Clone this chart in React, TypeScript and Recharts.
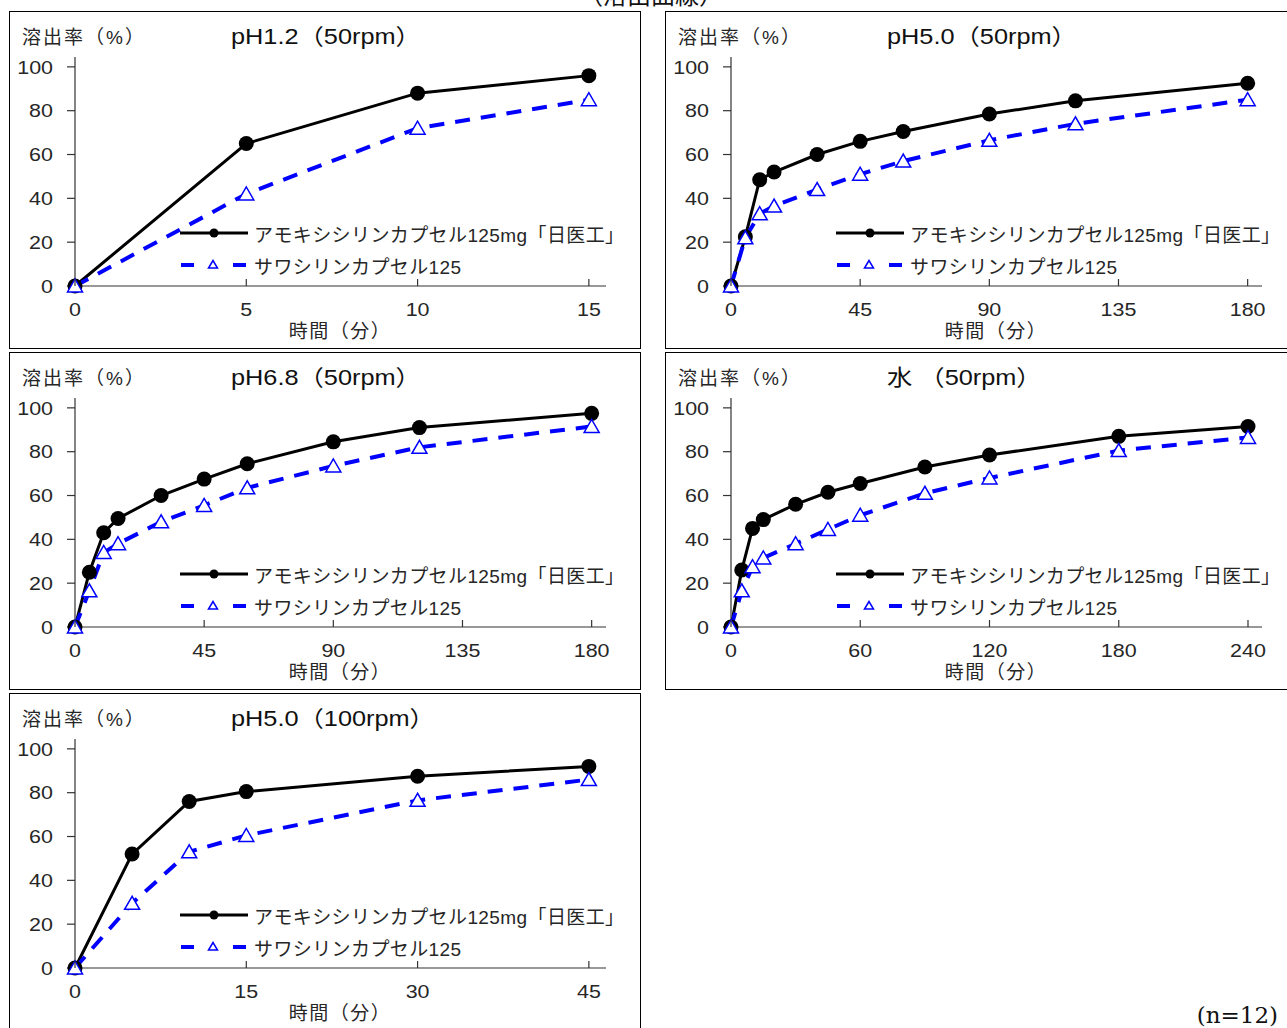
import React from "react";
import { LineChart, Line, XAxis, YAxis, Legend } from "recharts";

const SERIES_A = "アモキシシリンカプセル125mg「日医工」";
const SERIES_B = "サワシリンカプセル125";

// pH1.2 (50rpm)
const ph12Time = [0, 5, 10, 15];
const ph12Amox = [0, 65, 88, 96];
const ph12Sawa = [0, 42, 72, 85];
const ph12Ticks = [0, 5, 10, 15];

// pH5.0 (50rpm)
const ph50Time = [0, 5, 10, 15, 30, 45, 60, 90, 120, 180];
const ph50Amox = [0, 22.5, 48.5, 52, 60, 66, 70.5, 78.5, 84.5, 92.5];
const ph50Sawa = [0, 22, 33, 36.5, 44, 51, 57, 66.5, 74, 85];
const ph50Ticks = [0, 45, 90, 135, 180];

// pH6.8 (50rpm)
const ph68Time = [0, 5, 10, 15, 30, 45, 60, 90, 120, 180];
const ph68Amox = [0, 25, 43, 49.5, 60, 67.5, 74.5, 84.5, 91, 97.5];
const ph68Sawa = [0, 16.5, 34, 38, 48, 55.5, 63.5, 73.5, 82, 91.5];
const ph68Ticks = [0, 45, 90, 135, 180];

// 水 (50rpm)
const waterTime = [0, 5, 10, 15, 30, 45, 60, 90, 120, 180, 240];
const waterAmox = [0, 26, 45, 49, 56, 61.5, 65.5, 73, 78.5, 87, 91.5];
const waterSawa = [0, 16.5, 27.5, 31.5, 38, 44.5, 51, 61, 68, 80.5, 86.5];
const waterTicks = [0, 60, 120, 180, 240];

// pH5.0 (100rpm)
const ph50hTime = [0, 5, 10, 15, 30, 45];
const ph50hAmox = [0, 52, 76, 80.5, 87.5, 92];
const ph50hSawa = [0, 29.5, 53, 60.5, 76.5, 86];
const ph50hTicks = [0, 15, 30, 45];

const yTicks = [0, 20, 40, 60, 80, 100];

const FONT = '"Liberation Sans", Arial, "Noto Sans CJK JP", sans-serif';
const TEXT = "#262626";
const AXIS = "#333";
// the source's figures are drawn a bit wider than Arial
const WIDE = 1.13;

function XTick({ x, y, payload }: any) {
  return (
    <g>
      <line x1={x} x2={x} y1={y} y2={y - 7} stroke={AXIS} strokeWidth={1.2} />
      <text
        transform={`translate(${x},${y + 30}) scale(${WIDE},1)`}
        textAnchor="middle"
        fontSize={19}
        fill={TEXT}
        fontFamily={FONT}
      >
        {payload.value}
      </text>
    </g>
  );
}

function YTick({ x, y, payload }: any) {
  return (
    <text
      transform={`translate(${x},${y}) scale(${WIDE},1)`}
      dy="0.355em"
      textAnchor="end"
      fontSize={19}
      fill={TEXT}
      fontFamily={FONT}
    >
      {payload.value}
    </text>
  );
}

const renderTri = (p: any) => {
  const { cx, cy, index } = p;
  if (cx == null || cy == null) return <g key={`t-${index}`} />;
  return (
    <polygon
      key={`t-${index}`}
      points={`${cx},${cy - 7} ${cx - 7.5},${cy + 6} ${cx + 7.5},${cy + 6}`}
      fill="#fff"
      stroke="#0000ff"
      strokeWidth={1.5}
    />
  );
};

const renderLegend = (props: any) => {
  const items = props.payload || [];
  return (
    <div style={{ fontFamily: FONT, fontSize: 19, color: TEXT }}>
      {items.map((it: any) => (
        <div
          key={it.value}
          style={{ display: "flex", alignItems: "center", height: 32, whiteSpace: "nowrap" }}
        >
          <svg width={74} height={20}>
            {it.dataKey === "a" ? (
              <g>
                <line x1={0} x2={68} y1={10} y2={10} stroke="#000" strokeWidth={3} />
                <circle cx={34} cy={10} r={4.5} fill="#000" />
              </g>
            ) : (
              <g>
                <line x1={1} x2={14} y1={10} y2={10} stroke="#0000ff" strokeWidth={4} />
                <line x1={53} x2={66} y1={10} y2={10} stroke="#0000ff" strokeWidth={4} />
                <polygon points="33,5.5 28.5,13 37.5,13" fill="#fff" stroke="#0000ff" strokeWidth={1.5} />
              </g>
            )}
          </svg>
          <span style={{ letterSpacing: 0.4 }}>{it.value}</span>
        </div>
      ))}
    </div>
  );
};

interface PanelProps {
  title: string;
  time: number[];
  amox: number[];
  sawa: number[];
  xTicks: number[];
  xMax: number;
  left: number;
  top: number;
  width: number;
}

function Panel({ title, time, amox, sawa, xTicks, xMax, left, top, width }: PanelProps) {
  const height = 338;
  const plotLeft = 66;
  const plotRight = 597;
  const plotTop = 46;
  const plotBottom = 275;
  const rows = time.map((t, i) => ({ t, a: amox[i], b: sawa[i] }));
  return (
    <div
      style={{
        position: "absolute",
        left,
        top,
        width,
        height,
        border: "1px solid #000",
        boxSizing: "border-box",
        fontFamily: FONT,
        color: TEXT,
      }}
    >
      <div style={{ position: "absolute", left: -1, top: -1 }}>
        <LineChart
          width={width}
          height={height}
          data={rows}
          margin={{ top: plotTop, right: width - plotRight, bottom: 0, left: 0 }}
        >
          <XAxis
            dataKey="t"
            type="number"
            domain={[0, xMax]}
            ticks={xTicks}
            interval={0}
            tickLine={false}
            tickSize={0}
            tickMargin={0}
            tick={<XTick />}
            axisLine={{ stroke: AXIS, strokeWidth: 1.2 }}
            height={height - plotBottom}
          />
          <YAxis
            type="number"
            domain={[0, 104.5]}
            ticks={yTicks}
            interval={0}
            width={plotLeft}
            tickSize={8}
            tickMargin={14}
            tickLine={{ stroke: AXIS, strokeWidth: 1.2 }}
            axisLine={{ stroke: AXIS, strokeWidth: 1.2 }}
            tick={<YTick />}
          />
          <Legend
            layout="vertical"
            align="center"
            verticalAlign="middle"
            content={renderLegend}
            wrapperStyle={{ left: 171, top: 206, width: "auto", height: "auto" }}
          />
          <Line
            dataKey="a"
            name={SERIES_A}
            stroke="#000"
            strokeWidth={3}
            dot={{ r: 7.5, fill: "#000", stroke: "#000", strokeWidth: 0 }}
            isAnimationActive={false}
          />
          <Line
            dataKey="b"
            name={SERIES_B}
            stroke="#0000ff"
            strokeWidth={4}
            strokeDasharray="15 11"
            dot={renderTri}
            isAnimationActive={false}
          />
        </LineChart>
        <div style={{ position: "absolute", left: 13, top: 12, height: 30, lineHeight: "30px", fontSize: 19, letterSpacing: 2, whiteSpace: "nowrap" }}>
          溶出率（%）
        </div>
        <div
          style={{
            position: "absolute",
            left: 222,
            top: 11,
            height: 30,
            lineHeight: "30px",
            fontSize: 22,
            color: "#111",
            whiteSpace: "nowrap",
            transform: "scaleX(1.15)",
            transformOrigin: "left center",
          }}
        >
          {title}
        </div>
        <div style={{ position: "absolute", left: 331 - 70, width: 140, textAlign: "center", top: 306, height: 30, lineHeight: "30px", fontSize: 19, letterSpacing: 1.5, whiteSpace: "nowrap" }}>
          時間（分）
        </div>
      </div>
    </div>
  );
}

export default function App() {
  return (
    <div
      style={{
        position: "absolute",
        left: 0,
        top: 0,
        width: 1287,
        height: 1028,
        overflow: "hidden",
        background: "#fff",
      }}
    >
      <div
        style={{
          position: "absolute",
          left: 531,
          width: 240,
          top: -18,
          height: 24,
          lineHeight: "24px",
          textAlign: "center",
          fontSize: 24,
          fontFamily: '"Noto Sans CJK JP", serif',
          color: "#111",
        }}
      >
        （溶出曲線）
      </div>
      <Panel title="pH1.2（50rpm）" time={ph12Time} amox={ph12Amox} sawa={ph12Sawa} xTicks={ph12Ticks} xMax={15.5} left={9} top={11} width={632} />
      <Panel title="pH5.0（50rpm）" time={ph50Time} amox={ph50Amox} sawa={ph50Sawa} xTicks={ph50Ticks} xMax={185} left={665} top={11} width={640} />
      <Panel title="pH6.8（50rpm）" time={ph68Time} amox={ph68Amox} sawa={ph68Sawa} xTicks={ph68Ticks} xMax={185} left={9} top={352} width={632} />
      <Panel title="水 （50rpm）" time={waterTime} amox={waterAmox} sawa={waterSawa} xTicks={waterTicks} xMax={246.5} left={665} top={352} width={640} />
      <Panel title="pH5.0（100rpm）" time={ph50hTime} amox={ph50hAmox} sawa={ph50hSawa} xTicks={ph50hTicks} xMax={46.5} left={9} top={693} width={632} />
      <div
        style={{
          position: "absolute",
          left: 1160,
          width: 118,
          textAlign: "right",
          top: 1002,
          height: 26,
          lineHeight: "26px",
          fontSize: 23,
          fontFamily: '"DejaVu Serif", "Liberation Serif", serif',
          color: "#111",
        }}
      >
        (n=12)
      </div>
    </div>
  );
}
